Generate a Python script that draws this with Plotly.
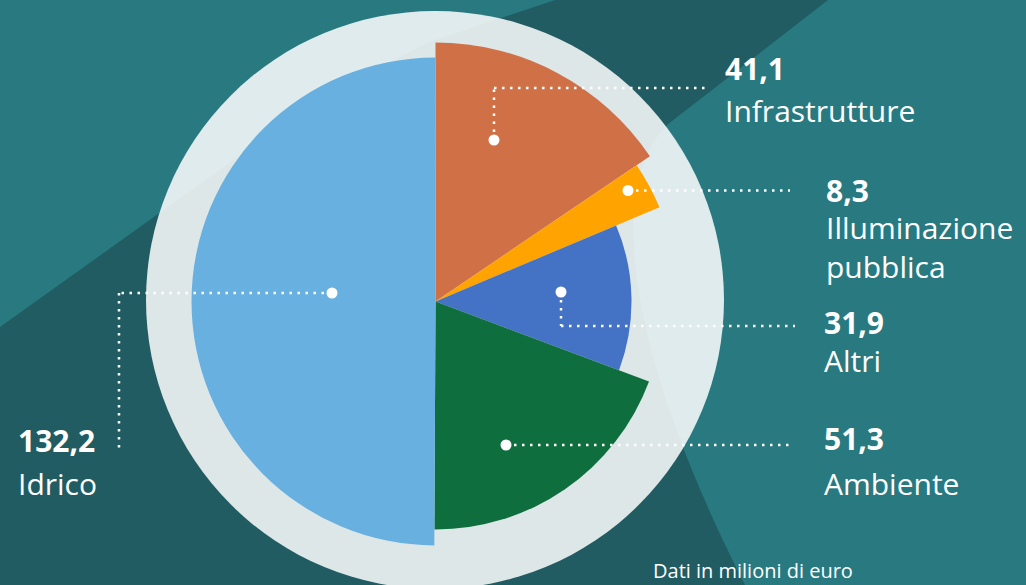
import math
import plotly.graph_objects as go

# ---------------- data ----------------
categories = ["Infrastrutture", "Illuminazione pubblica", "Altri", "Ambiente", "Idrico"]
values = [41.1, 8.3, 31.9, 51.3, 132.2]
value_labels = ["41,1", "8,3", "31,9", "51,3", "132,2"]
name_labels = ["Infrastrutture", "Illuminazione<br>pubblica", "Altri", "Ambiente", "Idrico"]

# ---------------- style ----------------
colors = ["#d07046", "#ffa300", "#4472c4", "#0e6e3e", "#68b0e0"]
slice_radius_px = [259, 243, 196, 228, 244]

W, H = 1026, 585
CX, CY = 435.5, 301.5      # pie centre (px)
RP = 265                   # polar radius (px) == radial range max
LIGHT = "#287a80"
DARK = "#215c63"
FONT = "Open Sans"


def px(x, y):
    return x / W, 1 - y / H


def pstr(x, y):
    a, b = px(x, y)
    return f"{a:.5f},{b:.5f}"


# angular geometry from the data
total = sum(values)
widths = [v / total * 360 for v in values]
centers = []
acc = 0.0
for w in widths:
    centers.append(acc + w / 2)
    acc += w

fig = go.Figure()
fig.add_trace(go.Barpolar(
    theta=centers,
    width=widths,
    r=slice_radius_px,
    marker=dict(color=colors, line=dict(width=0)),
    text=categories,
    hoverinfo="text",
    showlegend=False,
))

shapes = []
# background shapes
shapes.append(dict(type="path", xref="paper", yref="paper", layer="below",
                   path=f"M{pstr(0,0)} L{pstr(555,0)} L{pstr(430,42)} Q{pstr(330,90)} {pstr(235,159)} L{pstr(0,327)} Z",
                   fillcolor=LIGHT, line=dict(width=0)))
shapes.append(dict(type="path", xref="paper", yref="paper", layer="below",
                   path=f"M{pstr(828,0)} L{pstr(672,121)} C{pstr(610,170)} {pstr(615,330)} {pstr(745,585)} L{pstr(1026,585)} L{pstr(1026,0)} Z",
                   fillcolor=LIGHT, line=dict(width=0)))
# translucent disc behind the pie
gr_cx, gr_cy, gr_r = 435, 300, 289
x0, y1 = px(gr_cx - gr_r, gr_cy - gr_r)
x1, y0 = px(gr_cx + gr_r, gr_cy + gr_r)
shapes.append(dict(type="circle", xref="paper", yref="paper", layer="below",
                   x0=x0, x1=x1, y0=y0, y1=y1,
                   fillcolor="rgba(255,255,255,0.85)", line=dict(width=0)))

# leader lines (px polylines) and dots
DASH = "2.5px,5.5px"
leaders = [
    [(494, 140), (494, 88), (708, 88)],
    [(628, 190.5), (790, 190.5)],
    [(561, 292), (561, 326), (795, 326)],
    [(506, 445), (790, 445)],
    [(332, 293), (119, 293), (119, 452)],
]
for pts in leaders:
    for (ax, ay), (bx, by) in zip(pts[:-1], pts[1:]):
        a = px(ax, ay)
        b = px(bx, by)
        shapes.append(dict(type="line", xref="paper", yref="paper", layer="above",
                           x0=a[0], y0=a[1], x1=b[0], y1=b[1],
                           line=dict(color="white", width=2.5, dash=DASH)))
    dx, dy = pts[0]
    r = 5.5
    cx0, cy1 = px(dx - r, dy - r)
    cx1, cy0 = px(dx + r, dy + r)
    shapes.append(dict(type="circle", xref="paper", yref="paper", layer="above",
                       x0=cx0, x1=cx1, y0=cy0, y1=cy1,
                       fillcolor="white", line=dict(width=0)))

# label positions (px): value (x, y) and name (x, y)
label_pos = [
    ((723, 68), (723, 110)),
    ((824, 190.5), (824, 247)),
    ((822, 322), (822, 360)),
    ((822, 438), (822, 483)),
    ((16, 440), (16, 483)),
]
ann = []
for vtxt, ntxt, (vp, npos) in zip(value_labels, name_labels, label_pos):
    a, b = px(*vp)
    ann.append(dict(text=vtxt, x=a, y=b, xref="paper", yref="paper",
                    xanchor="left", yanchor="middle", showarrow=False,
                    font=dict(family=FONT, size=30, color="white", weight=700)))
    a, b = px(*npos)
    ann.append(dict(text=ntxt, x=a, y=b, xref="paper", yref="paper",
                    xanchor="left", yanchor="middle", showarrow=False, align="left",
                    font=dict(family=FONT, size=30, color="white", weight=400)))
a, b = px(651, 570)
ann.append(dict(text="Dati in milioni di euro", x=a, y=b, xref="paper", yref="paper",
                xanchor="left", yanchor="middle", showarrow=False,
                font=dict(family=FONT, size=20, color="white")))

dx0, dy1 = px(CX - RP, CY - RP)
dx1, dy0 = px(CX + RP, CY + RP)
fig.update_layout(
    width=W, height=H,
    margin=dict(l=0, r=0, t=0, b=0),
    paper_bgcolor=DARK,
    plot_bgcolor=DARK,
    shapes=shapes,
    annotations=ann,
    showlegend=False,
    polar=dict(
        domain=dict(x=[dx0, dx1], y=[dy0, dy1]),
        bgcolor="rgba(0,0,0,0)",
        bargap=0,
        hole=0,
        radialaxis=dict(range=[0, RP], visible=False, showgrid=False),
        angularaxis=dict(rotation=90, direction="clockwise", visible=False,
                         showgrid=False, showline=False, showticklabels=False, ticks=""),
    ),
)

fig.write_html("out.html")
